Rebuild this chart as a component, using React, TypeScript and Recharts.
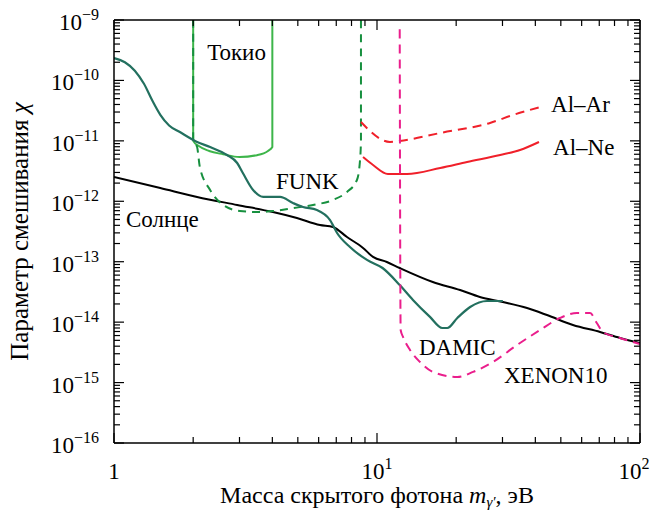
import { LineChart, Line, XAxis, YAxis, ReferenceDot, Label } from 'recharts';

// mass in eV, mixing parameter chi
const sunX = [1, 1.5, 2.07, 2.94, 4.02, 4.96, 6.07, 6.8, 7.69, 8.85, 9.66, 10.9, 12.2, 16.3, 20.7, 24.6, 30.1, 37.2, 44.3, 55.6, 70.5, 83.9, 100];
const sunY = [2.52e-12, 1.66e-12, 1.18e-12, 8.69e-13, 6.65e-13, 5.29e-13, 4.05e-13, 3.76e-13, 2.56e-13, 1.69e-13, 1.2e-13, 9.9e-14, 7.87e-14, 4.62e-14, 3.4e-14, 2.61e-14, 2.15e-14, 1.71e-14, 1.31e-14, 8.97e-15, 6.87e-15, 5.47e-15, 4.52e-15];

const damicX = [1, 1.1, 1.2, 1.3, 1.4, 1.5, 1.62, 1.78, 2.07, 2.32, 2.69, 2.94, 3.09, 3.38, 3.69, 4.28, 4.79, 5.23, 5.91, 6.63, 7.05, 7.89, 9.16, 10.5, 12.2, 13.7, 15.9, 17.7, 18.5, 20.2, 22.6, 26.2, 30.1];
const damicY = [2.35e-10, 2.0e-10, 1.45e-10, 8.8e-11, 4.6e-11, 2.7e-11, 1.8e-11, 1.4e-11, 9.6e-12, 7.9e-12, 5.83e-12, 4.3e-12, 2.94e-12, 1.54e-12, 1.18e-12, 1.18e-12, 9.37e-13, 8.05e-13, 7.18e-13, 4.9e-13, 2.99e-13, 1.75e-13, 1.07e-13, 7.87e-14, 4.12e-14, 2.33e-14, 1.22e-14, 8.0e-15, 8.0e-15, 1.17e-14, 1.78e-14, 2.24e-14, 2.24e-14];

const tokyoX = [2.0, 2.0, 2.1, 2.3, 2.6, 3.0, 3.5, 3.85, 4.0, 4.0];
const tokyoY = [1e-9, 1.0e-11, 8.2e-12, 6.8e-12, 6.0e-12, 5.4e-12, 5.8e-12, 6.8e-12, 7.9e-12, 1e-9];

const funkX = [2.0, 2.0, 2.07, 2.12, 2.32, 2.6, 3.01, 3.5, 4.02, 4.79, 5.71, 6.8, 7.69, 8.39, 8.62, 8.69, 8.69];
const funkY = [1e-9, 1.0e-11, 7.9e-12, 3.7e-12, 1.54e-12, 8.7e-13, 6.9e-13, 6.65e-13, 6.9e-13, 7.7e-13, 8.7e-13, 1.05e-12, 1.43e-12, 2.25e-12, 4.8e-12, 1.03e-11, 1e-9];

const alArX = [8.69, 11.2, 12.2, 17.4, 26.9, 32.9, 41.7];
const alArY = [2.05e-11, 9.6e-12, 9.95e-12, 1.35e-11, 1.98e-11, 2.68e-11, 3.63e-11];

const alNeX = [8.85, 9.66, 11.0, 13.0, 17.4, 22.0, 29.4, 35.0, 41.3];
const alNeY = [5.41e-12, 3.99e-12, 2.83e-12, 2.83e-12, 3.56e-12, 4.47e-12, 5.83e-12, 7.06e-12, 9.58e-12];

const xenonX = [12.2, 12.3, 12.56, 13.35, 14.57, 16.3, 20.2, 23.2, 27.6, 34.1, 41.7, 49.6, 57.6, 64.6, 68.5, 72.3, 83.9, 100];
const xenonY = [7.0e-10, 7.4e-15, 5.7e-15, 3.46e-15, 2.19e-15, 1.5e-15, 1.24e-15, 1.5e-15, 2.19e-15, 4.19e-15, 7.41e-15, 1.17e-14, 1.42e-14, 1.42e-14, 9.69e-15, 6.87e-15, 5.47e-15, 4.35e-15];

const xMajor = [1, 10, 100];
const yMajor = [1e-16, 1e-15, 1e-14, 1e-13, 1e-12, 1e-11, 1e-10, 1e-9];

const FONT = '"Liberation Serif", "Times New Roman", serif';

const pts = (xs: number[], ys: number[]) => xs.map((x, i) => ({ x, y: ys[i] }));

const withMinor = (majors: number[]) => {
  const out: number[] = [];
  majors.forEach((m, i) => {
    out.push(m);
    if (i < majors.length - 1) for (let k = 2; k <= 9; k++) out.push(k * m);
  });
  return out;
};
const xTicks = withMinor(xMajor);
const yTicks = withMinor(yMajor);

const isMajor = (v: number) => Math.abs(Math.log10(v) - Math.round(Math.log10(v))) < 1e-6;
const expOf = (v: number) => {
  const e = Math.round(Math.log10(v));
  return e < 0 ? '\u2212' + Math.abs(e) : String(e);
};

const PowLabel = ({ x, y, v, anchor }: any) => {
  if (Math.round(Math.log10(v)) === 0)
    return <text x={x} y={y} textAnchor={anchor} fontFamily={FONT} fontSize={23} fill="#000">1</text>;
  return (
    <text x={x} y={y} textAnchor={anchor} fontFamily={FONT} fontSize={23} fill="#000">
      10<tspan dy={-10} fontSize={16}>{expOf(v)}</tspan>
    </text>
  );
};

const LeftTick = ({ x, y, payload }: any) => {
  const major = isMajor(payload.value);
  return (
    <g>
      <line x1={x} x2={x + (major ? 10 : 6)} y1={y} y2={y} stroke="#000" strokeWidth={1.2} />
      {major && <PowLabel x={x - 15} y={y + 10} v={payload.value} anchor="end" />}
    </g>
  );
};

const RightTick = ({ x, y, payload }: any) => {
  const major = isMajor(payload.value);
  return <line x1={x} x2={x - (major ? 10 : 6)} y1={y} y2={y} stroke="#000" strokeWidth={1.2} />;
};

const BottomTick = ({ x, y, payload }: any) => {
  const major = isMajor(payload.value);
  return (
    <g>
      <line x1={x} x2={x} y1={y} y2={y - (major ? 10 : 6)} stroke="#000" strokeWidth={1.2} />
      {major && <PowLabel x={payload.value === 100 ? x - 6 : x} y={y + 36} v={payload.value} anchor="middle" />}
    </g>
  );
};

const TopTick = ({ x, y, payload }: any) => {
  const major = isMajor(payload.value);
  return <line x1={x} x2={x} y1={y} y2={y + (major ? 10 : 6)} stroke="#000" strokeWidth={1.2} />;
};

const note = (text: string) => (p: any) => (
  <text x={p.cx} y={p.cy} fontFamily={FONT} fontSize={23} fill="#000">{text}</text>
);

const notes = [
  { x: 2.26, y: 2.18e-10, text: 'Токио' },
  { x: 4.13, y: 1.6e-12, text: 'FUNK' },
  { x: 1.11, y: 3.76e-13, text: 'Солнце' },
  { x: 45.9, y: 3.0e-11, text: 'Al–Ar' },
  { x: 46.7, y: 5.83e-12, text: 'Al–Ne' },
  { x: 14.44, y: 2.86e-15, text: 'DAMIC' },
  { x: 30.4, y: 9.8e-16, text: 'XENON10' },
];

const XTitle = (props: any) => {
  const vb = props.viewBox || { x: 114, y: 443, width: 526 };
  return (
    <text x={vb.x + vb.width / 2} y={vb.y + 60} textAnchor="middle" fontFamily={FONT} fontSize={24} fill="#000">
      Масса скрытого фотона <tspan fontStyle="italic">m</tspan>
      <tspan dy={4} fontSize={15} fontStyle="italic">γ′</tspan>
      <tspan dy={-4}>, эВ</tspan>
    </text>
  );
};

const YTitle = (props: any) => {
  const vb = props.viewBox || { x: 0, y: 20, height: 423 };
  const cx = vb.x + 28;
  const cy = vb.y + vb.height / 2;
  return (
    <text x={cx} y={cy} transform={`rotate(-90 ${cx} ${cy})`} textAnchor="middle" fontFamily={FONT} fontSize={25} fill="#000">
      Параметр смешивания <tspan fontStyle="italic">χ</tspan>
    </text>
  );
};

export default function App() {
  return (
    <div style={{ position: 'fixed', left: 0, top: 0, width: 656, height: 513, background: '#fff' }}>
      <LineChart width={656} height={513} margin={{ top: 0, right: 0, bottom: 0, left: 0 }}>
        <XAxis
          dataKey="x"
          type="number"
          scale="log"
          domain={[1, 100]}
          allowDataOverflow
          ticks={xTicks}
          interval={0}
          tickSize={0}
          tickMargin={0}
          tickLine={false}
          tick={<BottomTick />}
          height={70}
          axisLine={{ stroke: '#000', strokeWidth: 1.5 }}
        >
          <Label content={<XTitle />} />
        </XAxis>
        <XAxis
          xAxisId="top"
          orientation="top"
          dataKey="x"
          type="number"
          scale="log"
          domain={[1, 100]}
          allowDataOverflow
          ticks={xTicks}
          interval={0}
          tickSize={0}
          tickMargin={0}
          tickLine={false}
          tick={<TopTick />}
          height={20}
          axisLine={{ stroke: '#000', strokeWidth: 1.5 }}
        />
        <YAxis
          type="number"
          scale="log"
          domain={[1e-16, 1e-9]}
          allowDataOverflow
          ticks={yTicks}
          interval={0}
          tickSize={0}
          tickMargin={0}
          tickLine={false}
          tick={<LeftTick />}
          width={114}
          axisLine={{ stroke: '#000', strokeWidth: 1.5 }}
        >
          <Label content={<YTitle />} />
        </YAxis>
        <YAxis
          yAxisId="right"
          orientation="right"
          type="number"
          scale="log"
          domain={[1e-16, 1e-9]}
          allowDataOverflow
          ticks={yTicks}
          interval={0}
          tickSize={0}
          tickMargin={0}
          tickLine={false}
          tick={<RightTick />}
          width={16}
          axisLine={{ stroke: '#000', strokeWidth: 1.5 }}
        />

        <Line data={pts(sunX, sunY)} dataKey="y" type="monotone" stroke="#000000" strokeWidth={2} dot={false} isAnimationActive={false} />
        <Line data={pts(tokyoX, tokyoY)} dataKey="y" type="monotone" stroke="#3db54a" strokeWidth={2} dot={false} isAnimationActive={false} />
        <Line data={pts(funkX, funkY)} dataKey="y" type="monotone" stroke="#17903f" strokeWidth={2} strokeDasharray="8 6" dot={false} isAnimationActive={false} />
        <Line data={pts(damicX, damicY)} dataKey="y" type="monotone" stroke="#23705f" strokeWidth={2.2} dot={false} isAnimationActive={false} />
        <Line data={pts(alArX, alArY)} dataKey="y" type="monotone" stroke="#f0202a" strokeWidth={2} strokeDasharray="9 6" dot={false} isAnimationActive={false} />
        <Line data={pts(alNeX, alNeY)} dataKey="y" type="monotone" stroke="#f0202a" strokeWidth={2} dot={false} isAnimationActive={false} />
        <Line data={pts(xenonX, xenonY)} dataKey="y" type="monotone" stroke="#ea1e8c" strokeWidth={2} strokeDasharray="9 6" dot={false} isAnimationActive={false} />

        {notes.map((n) => (
          <ReferenceDot key={n.text} x={n.x} y={n.y} r={0} shape={note(n.text)} />
        ))}
      </LineChart>
    </div>
  );
}
